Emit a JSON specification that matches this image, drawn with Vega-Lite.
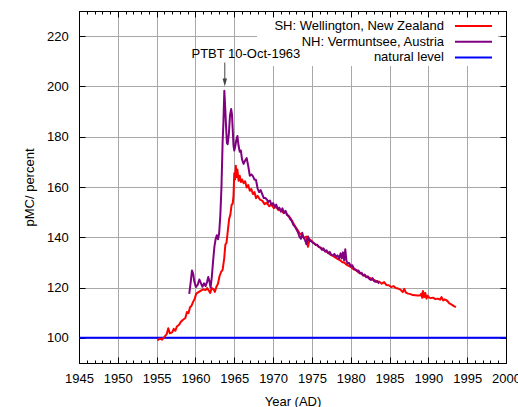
{
  "$schema": "https://vega.github.io/schema/vega-lite/v6.json",
  "width": 427,
  "height": 352,
  "autosize": "none",
  "padding": {"left": 79, "top": 11, "right": 12, "bottom": 44},
  "config": {
    "font": "Liberation Sans",
    "view": {"stroke": null},
    "axis": {
      "domainColor": "black", "domainWidth": 1,
      "tickColor": "black", "tickWidth": 1,
      "gridColor": "#a8a8a8", "gridWidth": 1,
      "labelFontSize": 13, "labelColor": "black",
      "titleFontSize": 13, "titleColor": "black", "titleFontWeight": "normal",
      "labelFlush": false, "labelOverlap": false
    }
  },
  "datasets": {
    "natural": [{"series": "natural level", "pmc": 100}],
    "annotation": [{"year": 1963.78, "label": "PTBT 10-Oct-1963"}],
    "series": [
      {"series":"SH: Wellington, New Zealand","year":1955.1,"pmc":98.9},
      {"series":"SH: Wellington, New Zealand","year":1955.4,"pmc":99.8},
      {"series":"SH: Wellington, New Zealand","year":1955.7,"pmc":99.3},
      {"series":"SH: Wellington, New Zealand","year":1956.0,"pmc":100.4},
      {"series":"SH: Wellington, New Zealand","year":1956.3,"pmc":101.5},
      {"series":"SH: Wellington, New Zealand","year":1956.5,"pmc":103.8},
      {"series":"SH: Wellington, New Zealand","year":1956.7,"pmc":101.8},
      {"series":"SH: Wellington, New Zealand","year":1957.0,"pmc":102.2},
      {"series":"SH: Wellington, New Zealand","year":1957.2,"pmc":103.6},
      {"series":"SH: Wellington, New Zealand","year":1957.4,"pmc":102.8},
      {"series":"SH: Wellington, New Zealand","year":1957.6,"pmc":104.5},
      {"series":"SH: Wellington, New Zealand","year":1957.9,"pmc":105.2},
      {"series":"SH: Wellington, New Zealand","year":1958.1,"pmc":106.3},
      {"series":"SH: Wellington, New Zealand","year":1958.4,"pmc":107.2},
      {"series":"SH: Wellington, New Zealand","year":1958.7,"pmc":107.9},
      {"series":"SH: Wellington, New Zealand","year":1958.9,"pmc":110.3},
      {"series":"SH: Wellington, New Zealand","year":1959.1,"pmc":109.8},
      {"series":"SH: Wellington, New Zealand","year":1959.3,"pmc":112.2},
      {"series":"SH: Wellington, New Zealand","year":1959.5,"pmc":112.8},
      {"series":"SH: Wellington, New Zealand","year":1959.7,"pmc":114.3},
      {"series":"SH: Wellington, New Zealand","year":1959.9,"pmc":115.5},
      {"series":"SH: Wellington, New Zealand","year":1960.1,"pmc":117.6},
      {"series":"SH: Wellington, New Zealand","year":1960.4,"pmc":118.2},
      {"series":"SH: Wellington, New Zealand","year":1960.7,"pmc":118.8},
      {"series":"SH: Wellington, New Zealand","year":1961.0,"pmc":119.3},
      {"series":"SH: Wellington, New Zealand","year":1961.3,"pmc":119.0},
      {"series":"SH: Wellington, New Zealand","year":1961.5,"pmc":119.8},
      {"series":"SH: Wellington, New Zealand","year":1961.7,"pmc":118.9},
      {"series":"SH: Wellington, New Zealand","year":1961.9,"pmc":117.9},
      {"series":"SH: Wellington, New Zealand","year":1962.1,"pmc":119.8},
      {"series":"SH: Wellington, New Zealand","year":1962.3,"pmc":119.4},
      {"series":"SH: Wellington, New Zealand","year":1962.5,"pmc":118.3},
      {"series":"SH: Wellington, New Zealand","year":1962.7,"pmc":120.3},
      {"series":"SH: Wellington, New Zealand","year":1962.9,"pmc":121.5},
      {"series":"SH: Wellington, New Zealand","year":1963.1,"pmc":124.5},
      {"series":"SH: Wellington, New Zealand","year":1963.3,"pmc":126.2},
      {"series":"SH: Wellington, New Zealand","year":1963.5,"pmc":127.0},
      {"series":"SH: Wellington, New Zealand","year":1963.7,"pmc":131.5},
      {"series":"SH: Wellington, New Zealand","year":1963.85,"pmc":137.0},
      {"series":"SH: Wellington, New Zealand","year":1964.0,"pmc":137.8},
      {"series":"SH: Wellington, New Zealand","year":1964.2,"pmc":143.5},
      {"series":"SH: Wellington, New Zealand","year":1964.35,"pmc":147.5},
      {"series":"SH: Wellington, New Zealand","year":1964.5,"pmc":149.0},
      {"series":"SH: Wellington, New Zealand","year":1964.65,"pmc":152.8},
      {"series":"SH: Wellington, New Zealand","year":1964.8,"pmc":153.5},
      {"series":"SH: Wellington, New Zealand","year":1964.9,"pmc":156.5},
      {"series":"SH: Wellington, New Zealand","year":1965.0,"pmc":165.5},
      {"series":"SH: Wellington, New Zealand","year":1965.1,"pmc":163.0},
      {"series":"SH: Wellington, New Zealand","year":1965.2,"pmc":168.5},
      {"series":"SH: Wellington, New Zealand","year":1965.3,"pmc":164.0},
      {"series":"SH: Wellington, New Zealand","year":1965.4,"pmc":167.0},
      {"series":"SH: Wellington, New Zealand","year":1965.55,"pmc":162.5},
      {"series":"SH: Wellington, New Zealand","year":1965.7,"pmc":164.5},
      {"series":"SH: Wellington, New Zealand","year":1965.85,"pmc":162.0},
      {"series":"SH: Wellington, New Zealand","year":1966.0,"pmc":163.0},
      {"series":"SH: Wellington, New Zealand","year":1966.2,"pmc":161.5},
      {"series":"SH: Wellington, New Zealand","year":1966.4,"pmc":162.3},
      {"series":"SH: Wellington, New Zealand","year":1966.6,"pmc":159.8},
      {"series":"SH: Wellington, New Zealand","year":1966.8,"pmc":160.8},
      {"series":"SH: Wellington, New Zealand","year":1967.0,"pmc":158.5},
      {"series":"SH: Wellington, New Zealand","year":1967.2,"pmc":159.2},
      {"series":"SH: Wellington, New Zealand","year":1967.4,"pmc":157.2},
      {"series":"SH: Wellington, New Zealand","year":1967.6,"pmc":158.0},
      {"series":"SH: Wellington, New Zealand","year":1967.8,"pmc":155.5},
      {"series":"SH: Wellington, New Zealand","year":1968.0,"pmc":156.5},
      {"series":"SH: Wellington, New Zealand","year":1968.3,"pmc":155.0},
      {"series":"SH: Wellington, New Zealand","year":1968.6,"pmc":154.6},
      {"series":"SH: Wellington, New Zealand","year":1968.9,"pmc":153.2},
      {"series":"SH: Wellington, New Zealand","year":1969.2,"pmc":153.8},
      {"series":"SH: Wellington, New Zealand","year":1969.5,"pmc":152.4},
      {"series":"SH: Wellington, New Zealand","year":1969.8,"pmc":153.0},
      {"series":"SH: Wellington, New Zealand","year":1970.1,"pmc":151.6},
      {"series":"SH: Wellington, New Zealand","year":1970.4,"pmc":152.3},
      {"series":"SH: Wellington, New Zealand","year":1970.7,"pmc":150.8},
      {"series":"SH: Wellington, New Zealand","year":1971.0,"pmc":151.0},
      {"series":"SH: Wellington, New Zealand","year":1971.3,"pmc":149.8},
      {"series":"SH: Wellington, New Zealand","year":1971.6,"pmc":150.2},
      {"series":"SH: Wellington, New Zealand","year":1971.9,"pmc":148.6},
      {"series":"SH: Wellington, New Zealand","year":1972.2,"pmc":147.8},
      {"series":"SH: Wellington, New Zealand","year":1972.5,"pmc":146.2},
      {"series":"SH: Wellington, New Zealand","year":1972.8,"pmc":144.5},
      {"series":"SH: Wellington, New Zealand","year":1973.1,"pmc":143.2},
      {"series":"SH: Wellington, New Zealand","year":1973.4,"pmc":141.6},
      {"series":"SH: Wellington, New Zealand","year":1973.7,"pmc":141.0},
      {"series":"SH: Wellington, New Zealand","year":1974.0,"pmc":139.8},
      {"series":"SH: Wellington, New Zealand","year":1974.3,"pmc":140.3},
      {"series":"SH: Wellington, New Zealand","year":1974.5,"pmc":136.2},
      {"series":"SH: Wellington, New Zealand","year":1974.7,"pmc":139.2},
      {"series":"SH: Wellington, New Zealand","year":1975.0,"pmc":138.4},
      {"series":"SH: Wellington, New Zealand","year":1975.3,"pmc":137.5},
      {"series":"SH: Wellington, New Zealand","year":1975.6,"pmc":137.0},
      {"series":"SH: Wellington, New Zealand","year":1975.9,"pmc":136.1},
      {"series":"SH: Wellington, New Zealand","year":1976.2,"pmc":135.8},
      {"series":"SH: Wellington, New Zealand","year":1976.5,"pmc":135.0},
      {"series":"SH: Wellington, New Zealand","year":1976.8,"pmc":134.3},
      {"series":"SH: Wellington, New Zealand","year":1977.1,"pmc":133.9},
      {"series":"SH: Wellington, New Zealand","year":1977.4,"pmc":133.0},
      {"series":"SH: Wellington, New Zealand","year":1977.7,"pmc":132.6},
      {"series":"SH: Wellington, New Zealand","year":1978.0,"pmc":132.0},
      {"series":"SH: Wellington, New Zealand","year":1978.3,"pmc":131.4},
      {"series":"SH: Wellington, New Zealand","year":1978.6,"pmc":130.9},
      {"series":"SH: Wellington, New Zealand","year":1978.9,"pmc":130.2},
      {"series":"SH: Wellington, New Zealand","year":1979.2,"pmc":129.9},
      {"series":"SH: Wellington, New Zealand","year":1979.5,"pmc":129.0},
      {"series":"SH: Wellington, New Zealand","year":1979.8,"pmc":128.5},
      {"series":"SH: Wellington, New Zealand","year":1980.1,"pmc":128.0},
      {"series":"SH: Wellington, New Zealand","year":1980.4,"pmc":127.2},
      {"series":"SH: Wellington, New Zealand","year":1980.7,"pmc":127.0},
      {"series":"SH: Wellington, New Zealand","year":1981.0,"pmc":126.0},
      {"series":"SH: Wellington, New Zealand","year":1981.3,"pmc":125.8},
      {"series":"SH: Wellington, New Zealand","year":1981.6,"pmc":124.9},
      {"series":"SH: Wellington, New Zealand","year":1981.9,"pmc":124.6},
      {"series":"SH: Wellington, New Zealand","year":1982.2,"pmc":124.0},
      {"series":"SH: Wellington, New Zealand","year":1982.5,"pmc":123.8},
      {"series":"SH: Wellington, New Zealand","year":1982.8,"pmc":123.2},
      {"series":"SH: Wellington, New Zealand","year":1983.1,"pmc":122.9},
      {"series":"SH: Wellington, New Zealand","year":1983.4,"pmc":122.4},
      {"series":"SH: Wellington, New Zealand","year":1983.7,"pmc":122.3},
      {"series":"SH: Wellington, New Zealand","year":1984.0,"pmc":121.5},
      {"series":"SH: Wellington, New Zealand","year":1984.3,"pmc":122.2},
      {"series":"SH: Wellington, New Zealand","year":1984.6,"pmc":121.0},
      {"series":"SH: Wellington, New Zealand","year":1984.9,"pmc":120.9},
      {"series":"SH: Wellington, New Zealand","year":1985.2,"pmc":120.2},
      {"series":"SH: Wellington, New Zealand","year":1985.5,"pmc":120.6},
      {"series":"SH: Wellington, New Zealand","year":1985.8,"pmc":119.8},
      {"series":"SH: Wellington, New Zealand","year":1986.1,"pmc":119.6},
      {"series":"SH: Wellington, New Zealand","year":1986.4,"pmc":119.2},
      {"series":"SH: Wellington, New Zealand","year":1986.7,"pmc":118.2},
      {"series":"SH: Wellington, New Zealand","year":1986.9,"pmc":119.5},
      {"series":"SH: Wellington, New Zealand","year":1987.1,"pmc":118.0},
      {"series":"SH: Wellington, New Zealand","year":1987.4,"pmc":117.6},
      {"series":"SH: Wellington, New Zealand","year":1987.7,"pmc":117.4},
      {"series":"SH: Wellington, New Zealand","year":1988.0,"pmc":117.0},
      {"series":"SH: Wellington, New Zealand","year":1988.3,"pmc":116.9},
      {"series":"SH: Wellington, New Zealand","year":1988.6,"pmc":116.8},
      {"series":"SH: Wellington, New Zealand","year":1988.9,"pmc":116.8},
      {"series":"SH: Wellington, New Zealand","year":1989.1,"pmc":117.6},
      {"series":"SH: Wellington, New Zealand","year":1989.2,"pmc":115.9},
      {"series":"SH: Wellington, New Zealand","year":1989.3,"pmc":118.6},
      {"series":"SH: Wellington, New Zealand","year":1989.45,"pmc":116.2},
      {"series":"SH: Wellington, New Zealand","year":1989.6,"pmc":117.9},
      {"series":"SH: Wellington, New Zealand","year":1989.75,"pmc":115.6},
      {"series":"SH: Wellington, New Zealand","year":1989.9,"pmc":116.8},
      {"series":"SH: Wellington, New Zealand","year":1990.1,"pmc":116.0},
      {"series":"SH: Wellington, New Zealand","year":1990.3,"pmc":115.8},
      {"series":"SH: Wellington, New Zealand","year":1990.6,"pmc":116.0},
      {"series":"SH: Wellington, New Zealand","year":1990.9,"pmc":115.4},
      {"series":"SH: Wellington, New Zealand","year":1991.2,"pmc":115.6},
      {"series":"SH: Wellington, New Zealand","year":1991.5,"pmc":115.2},
      {"series":"SH: Wellington, New Zealand","year":1991.7,"pmc":116.2},
      {"series":"SH: Wellington, New Zealand","year":1991.9,"pmc":114.9},
      {"series":"SH: Wellington, New Zealand","year":1992.1,"pmc":115.3},
      {"series":"SH: Wellington, New Zealand","year":1992.3,"pmc":115.0},
      {"series":"SH: Wellington, New Zealand","year":1992.5,"pmc":114.5},
      {"series":"SH: Wellington, New Zealand","year":1992.7,"pmc":113.7},
      {"series":"SH: Wellington, New Zealand","year":1992.9,"pmc":113.4},
      {"series":"SH: Wellington, New Zealand","year":1993.1,"pmc":113.0},
      {"series":"SH: Wellington, New Zealand","year":1993.3,"pmc":112.6},
      {"series":"SH: Wellington, New Zealand","year":1993.55,"pmc":112.2},
      {"series":"NH: Vermuntsee, Austria","year":1959.2,"pmc":117.5},
      {"series":"NH: Vermuntsee, Austria","year":1959.4,"pmc":122.5},
      {"series":"NH: Vermuntsee, Austria","year":1959.55,"pmc":126.8},
      {"series":"NH: Vermuntsee, Austria","year":1959.7,"pmc":125.6},
      {"series":"NH: Vermuntsee, Austria","year":1959.85,"pmc":122.5},
      {"series":"NH: Vermuntsee, Austria","year":1960.05,"pmc":120.2},
      {"series":"NH: Vermuntsee, Austria","year":1960.3,"pmc":121.2},
      {"series":"NH: Vermuntsee, Austria","year":1960.5,"pmc":123.2},
      {"series":"NH: Vermuntsee, Austria","year":1960.7,"pmc":121.8},
      {"series":"NH: Vermuntsee, Austria","year":1960.9,"pmc":120.3},
      {"series":"NH: Vermuntsee, Austria","year":1961.1,"pmc":121.7},
      {"series":"NH: Vermuntsee, Austria","year":1961.3,"pmc":120.6},
      {"series":"NH: Vermuntsee, Austria","year":1961.5,"pmc":122.3},
      {"series":"NH: Vermuntsee, Austria","year":1961.65,"pmc":124.2},
      {"series":"NH: Vermuntsee, Austria","year":1961.8,"pmc":122.5},
      {"series":"NH: Vermuntsee, Austria","year":1961.95,"pmc":120.0},
      {"series":"NH: Vermuntsee, Austria","year":1962.1,"pmc":124.0},
      {"series":"NH: Vermuntsee, Austria","year":1962.3,"pmc":131.5},
      {"series":"NH: Vermuntsee, Austria","year":1962.45,"pmc":136.5},
      {"series":"NH: Vermuntsee, Austria","year":1962.6,"pmc":139.3},
      {"series":"NH: Vermuntsee, Austria","year":1962.75,"pmc":140.8},
      {"series":"NH: Vermuntsee, Austria","year":1962.9,"pmc":139.2},
      {"series":"NH: Vermuntsee, Austria","year":1963.05,"pmc":141.5},
      {"series":"NH: Vermuntsee, Austria","year":1963.2,"pmc":148.5},
      {"series":"NH: Vermuntsee, Austria","year":1963.35,"pmc":160.0},
      {"series":"NH: Vermuntsee, Austria","year":1963.5,"pmc":178.0},
      {"series":"NH: Vermuntsee, Austria","year":1963.6,"pmc":185.5},
      {"series":"NH: Vermuntsee, Austria","year":1963.72,"pmc":198.3},
      {"series":"NH: Vermuntsee, Austria","year":1963.85,"pmc":190.5},
      {"series":"NH: Vermuntsee, Austria","year":1963.95,"pmc":183.5},
      {"series":"NH: Vermuntsee, Austria","year":1964.05,"pmc":177.5},
      {"series":"NH: Vermuntsee, Austria","year":1964.15,"pmc":177.0},
      {"series":"NH: Vermuntsee, Austria","year":1964.3,"pmc":181.0},
      {"series":"NH: Vermuntsee, Austria","year":1964.45,"pmc":188.5},
      {"series":"NH: Vermuntsee, Austria","year":1964.6,"pmc":191.0},
      {"series":"NH: Vermuntsee, Austria","year":1964.7,"pmc":189.0},
      {"series":"NH: Vermuntsee, Austria","year":1964.8,"pmc":183.0},
      {"series":"NH: Vermuntsee, Austria","year":1964.9,"pmc":176.5},
      {"series":"NH: Vermuntsee, Austria","year":1965.0,"pmc":174.5},
      {"series":"NH: Vermuntsee, Austria","year":1965.1,"pmc":175.8},
      {"series":"NH: Vermuntsee, Austria","year":1965.25,"pmc":178.5},
      {"series":"NH: Vermuntsee, Austria","year":1965.4,"pmc":180.3},
      {"series":"NH: Vermuntsee, Austria","year":1965.55,"pmc":176.5},
      {"series":"NH: Vermuntsee, Austria","year":1965.7,"pmc":174.0},
      {"series":"NH: Vermuntsee, Austria","year":1965.85,"pmc":174.5},
      {"series":"NH: Vermuntsee, Austria","year":1966.0,"pmc":171.0},
      {"series":"NH: Vermuntsee, Austria","year":1966.2,"pmc":169.2},
      {"series":"NH: Vermuntsee, Austria","year":1966.4,"pmc":170.5},
      {"series":"NH: Vermuntsee, Austria","year":1966.6,"pmc":171.5},
      {"series":"NH: Vermuntsee, Austria","year":1966.8,"pmc":168.3},
      {"series":"NH: Vermuntsee, Austria","year":1967.0,"pmc":164.5},
      {"series":"NH: Vermuntsee, Austria","year":1967.2,"pmc":165.0},
      {"series":"NH: Vermuntsee, Austria","year":1967.4,"pmc":164.3},
      {"series":"NH: Vermuntsee, Austria","year":1967.6,"pmc":163.0},
      {"series":"NH: Vermuntsee, Austria","year":1967.8,"pmc":162.8},
      {"series":"NH: Vermuntsee, Austria","year":1968.0,"pmc":159.5},
      {"series":"NH: Vermuntsee, Austria","year":1968.2,"pmc":158.0},
      {"series":"NH: Vermuntsee, Austria","year":1968.4,"pmc":158.8},
      {"series":"NH: Vermuntsee, Austria","year":1968.6,"pmc":157.2},
      {"series":"NH: Vermuntsee, Austria","year":1968.8,"pmc":155.6},
      {"series":"NH: Vermuntsee, Austria","year":1969.0,"pmc":155.6},
      {"series":"NH: Vermuntsee, Austria","year":1969.2,"pmc":155.0},
      {"series":"NH: Vermuntsee, Austria","year":1969.4,"pmc":154.1},
      {"series":"NH: Vermuntsee, Austria","year":1969.6,"pmc":154.6},
      {"series":"NH: Vermuntsee, Austria","year":1969.8,"pmc":152.8},
      {"series":"NH: Vermuntsee, Austria","year":1970.0,"pmc":153.6},
      {"series":"NH: Vermuntsee, Austria","year":1970.2,"pmc":152.2},
      {"series":"NH: Vermuntsee, Austria","year":1970.4,"pmc":153.0},
      {"series":"NH: Vermuntsee, Austria","year":1970.6,"pmc":151.2},
      {"series":"NH: Vermuntsee, Austria","year":1970.8,"pmc":151.8},
      {"series":"NH: Vermuntsee, Austria","year":1971.0,"pmc":150.2},
      {"series":"NH: Vermuntsee, Austria","year":1971.2,"pmc":151.5},
      {"series":"NH: Vermuntsee, Austria","year":1971.4,"pmc":149.6},
      {"series":"NH: Vermuntsee, Austria","year":1971.6,"pmc":150.5},
      {"series":"NH: Vermuntsee, Austria","year":1971.8,"pmc":148.8},
      {"series":"NH: Vermuntsee, Austria","year":1972.0,"pmc":148.6},
      {"series":"NH: Vermuntsee, Austria","year":1972.2,"pmc":147.2},
      {"series":"NH: Vermuntsee, Austria","year":1972.4,"pmc":146.6},
      {"series":"NH: Vermuntsee, Austria","year":1972.6,"pmc":145.0},
      {"series":"NH: Vermuntsee, Austria","year":1972.8,"pmc":144.4},
      {"series":"NH: Vermuntsee, Austria","year":1973.0,"pmc":143.2},
      {"series":"NH: Vermuntsee, Austria","year":1973.2,"pmc":142.0},
      {"series":"NH: Vermuntsee, Austria","year":1973.4,"pmc":140.2},
      {"series":"NH: Vermuntsee, Austria","year":1973.6,"pmc":139.4},
      {"series":"NH: Vermuntsee, Austria","year":1973.75,"pmc":141.8},
      {"series":"NH: Vermuntsee, Austria","year":1973.9,"pmc":140.0},
      {"series":"NH: Vermuntsee, Austria","year":1974.1,"pmc":139.0},
      {"series":"NH: Vermuntsee, Austria","year":1974.3,"pmc":137.2},
      {"series":"NH: Vermuntsee, Austria","year":1974.5,"pmc":140.3},
      {"series":"NH: Vermuntsee, Austria","year":1974.7,"pmc":138.5},
      {"series":"NH: Vermuntsee, Austria","year":1974.9,"pmc":138.6},
      {"series":"NH: Vermuntsee, Austria","year":1975.1,"pmc":137.9},
      {"series":"NH: Vermuntsee, Austria","year":1975.3,"pmc":137.6},
      {"series":"NH: Vermuntsee, Austria","year":1975.5,"pmc":136.9},
      {"series":"NH: Vermuntsee, Austria","year":1975.7,"pmc":137.0},
      {"series":"NH: Vermuntsee, Austria","year":1975.9,"pmc":136.2},
      {"series":"NH: Vermuntsee, Austria","year":1976.1,"pmc":135.9},
      {"series":"NH: Vermuntsee, Austria","year":1976.3,"pmc":135.0},
      {"series":"NH: Vermuntsee, Austria","year":1976.5,"pmc":135.6},
      {"series":"NH: Vermuntsee, Austria","year":1976.7,"pmc":134.4},
      {"series":"NH: Vermuntsee, Austria","year":1976.9,"pmc":134.8},
      {"series":"NH: Vermuntsee, Austria","year":1977.1,"pmc":133.6},
      {"series":"NH: Vermuntsee, Austria","year":1977.3,"pmc":134.2},
      {"series":"NH: Vermuntsee, Austria","year":1977.5,"pmc":133.0},
      {"series":"NH: Vermuntsee, Austria","year":1977.7,"pmc":132.8},
      {"series":"NH: Vermuntsee, Austria","year":1977.9,"pmc":133.4},
      {"series":"NH: Vermuntsee, Austria","year":1978.1,"pmc":132.2},
      {"series":"NH: Vermuntsee, Austria","year":1978.3,"pmc":132.8},
      {"series":"NH: Vermuntsee, Austria","year":1978.5,"pmc":131.5},
      {"series":"NH: Vermuntsee, Austria","year":1978.7,"pmc":133.6},
      {"series":"NH: Vermuntsee, Austria","year":1978.85,"pmc":131.6},
      {"series":"NH: Vermuntsee, Austria","year":1979.0,"pmc":134.0},
      {"series":"NH: Vermuntsee, Austria","year":1979.15,"pmc":130.8},
      {"series":"NH: Vermuntsee, Austria","year":1979.3,"pmc":135.2},
      {"series":"NH: Vermuntsee, Austria","year":1979.45,"pmc":130.6},
      {"series":"NH: Vermuntsee, Austria","year":1979.6,"pmc":129.6},
      {"series":"NH: Vermuntsee, Austria","year":1979.8,"pmc":129.8},
      {"series":"NH: Vermuntsee, Austria","year":1980.0,"pmc":128.5},
      {"series":"NH: Vermuntsee, Austria","year":1980.2,"pmc":128.9},
      {"series":"NH: Vermuntsee, Austria","year":1980.4,"pmc":127.6},
      {"series":"NH: Vermuntsee, Austria","year":1980.6,"pmc":127.2},
      {"series":"NH: Vermuntsee, Austria","year":1980.8,"pmc":126.6},
      {"series":"NH: Vermuntsee, Austria","year":1981.0,"pmc":126.8},
      {"series":"NH: Vermuntsee, Austria","year":1981.2,"pmc":125.6},
      {"series":"NH: Vermuntsee, Austria","year":1981.4,"pmc":125.9},
      {"series":"NH: Vermuntsee, Austria","year":1981.6,"pmc":124.8},
      {"series":"NH: Vermuntsee, Austria","year":1981.8,"pmc":125.2},
      {"series":"NH: Vermuntsee, Austria","year":1982.0,"pmc":124.1},
      {"series":"NH: Vermuntsee, Austria","year":1982.2,"pmc":124.5},
      {"series":"NH: Vermuntsee, Austria","year":1982.4,"pmc":123.4},
      {"series":"NH: Vermuntsee, Austria","year":1982.6,"pmc":123.0},
      {"series":"NH: Vermuntsee, Austria","year":1982.8,"pmc":123.8},
      {"series":"NH: Vermuntsee, Austria","year":1983.0,"pmc":122.6},
      {"series":"NH: Vermuntsee, Austria","year":1983.2,"pmc":122.3},
      {"series":"NH: Vermuntsee, Austria","year":1983.4,"pmc":122.6},
      {"series":"NH: Vermuntsee, Austria","year":1983.65,"pmc":121.6}
    ]
  },
  "resolve": {"axis": {"x": "independent", "y": "independent"}},
  "layer": [
    {
      "data": {"name": "natural"},
      "mark": {"type": "rule", "strokeWidth": 2},
      "encoding": {
        "x": {"datum": 1945, "type": "quantitative",
              "scale": {"domain": [1945, 2000], "nice": false, "zero": false},
              "axis": {"orient": "top", "values": [1945, 1950, 1955, 1960, 1965, 1970, 1975, 1980, 1985, 1990, 1995, 2000], "labels": false, "grid": false, "tickSize": -6, "zindex": 1,
                       "title": "PTBT 10-Oct-1963", "titleAngle": 0, "titleAlign": "center", "titleBaseline": "middle", "titleX": 166.4, "titleY": 42.3, "titleFontSize": 13, "titleFontWeight": "normal", "titleColor": "black"}},
        "x2": {"datum": 2000},
        "y": {"field": "pmc", "type": "quantitative",
              "scale": {"domain": [90, 230], "nice": false, "zero": false},
              "axis": {"orient": "right", "values": [100, 120, 140, 160, 180, 200, 220], "labels": false, "grid": false, "tickSize": -6, "title": null}},
        "color": {"field": "series", "type": "nominal",
                  "scale": {"domain": ["SH: Wellington, New Zealand", "NH: Vermuntsee, Austria", "natural level"], "range": ["#ff0000", "#800080", "#0000ff"]}}
      }
    },
    {
      "data": {"name": "series"},
      "mark": {"type": "line", "strokeWidth": 2, "strokeJoin": "round"},
      "encoding": {
        "x": {"field": "year", "type": "quantitative",
              "scale": {"domain": [1945, 2000], "nice": false, "zero": false},
              "axis": {"orient": "bottom", "values": [1945, 1950, 1955, 1960, 1965, 1970, 1975, 1980, 1985, 1990, 1995, 2000], "grid": true, "tickSize": -6, "labelPadding": 15, "format": "d", "title": "Year (AD)", "titlePadding": 10}},
        "y": {"field": "pmc", "type": "quantitative",
              "scale": {"domain": [90, 230], "nice": false, "zero": false},
              "axis": {"orient": "left", "values": [100, 120, 140, 160, 180, 200, 220], "grid": true, "tickSize": -6, "labelPadding": 16.7, "title": "pMC/ percent", "titlePadding": 10}},
        "color": {"field": "series", "type": "nominal",
                  "scale": {"domain": ["SH: Wellington, New Zealand", "NH: Vermuntsee, Austria", "natural level"], "range": ["#ff0000", "#800080", "#0000ff"]},
                  "legend": {
                    "orient": "none", "legendX": 178, "legendY": 6,
                    "title": null, "padding": 1.5, "fillColor": "white",
                    "symbolType": "M-2.85,0H2.85", "symbolSize": 169, "symbolStrokeWidth": 2,
                    "labelFontSize": 13, "labelColor": "black", "labelLimit": 400,
                    "rowPadding": 0.7,
                    "encode": {
                      "labels": {"update": {"x": {"value": 185.5}, "align": {"value": "right"}}},
                      "symbols": {"update": {"x": {"value": 215}}}
                    }
                  }}
      }
    },
    {
      "data": {"name": "annotation"},
      "mark": {"type": "rule", "color": "#444444", "strokeWidth": 1},
      "encoding": {
        "x": {"field": "year", "type": "quantitative",
              "scale": {"domain": [1945, 2000], "nice": false, "zero": false},
              "axis": {"orient": "bottom", "values": [1945,1946,1947,1948,1949,1950,1951,1952,1953,1954,1955,1956,1957,1958,1959,1960,1961,1962,1963,1964,1965,1966,1967,1968,1969,1970,1971,1972,1973,1974,1975,1976,1977,1978,1979,1980,1981,1982,1983,1984,1985,1986,1987,1988,1989,1990,1991,1992,1993,1994,1995,1996,1997,1998,1999,2000], "labels": false, "grid": false, "domain": false, "tickSize": -3, "title": null}},
        "y": {"datum": 202, "type": "quantitative", "scale": {"domain": [90, 230], "nice": false, "zero": false}, "axis": null},
        "y2": {"datum": 209.5}
      }
    },
    {
      "data": {"name": "annotation"},
      "mark": {"type": "point", "shape": "M-0.55,-1L0,1L0.55,-1Z", "filled": true, "color": "#444444", "opacity": 1, "size": 64, "yOffset": -4},
      "encoding": {
        "x": {"field": "year", "type": "quantitative",
              "scale": {"domain": [1945, 2000], "nice": false, "zero": false},
              "axis": {"orient": "top", "values": [1945,1946,1947,1948,1949,1950,1951,1952,1953,1954,1955,1956,1957,1958,1959,1960,1961,1962,1963,1964,1965,1966,1967,1968,1969,1970,1971,1972,1973,1974,1975,1976,1977,1978,1979,1980,1981,1982,1983,1984,1985,1986,1987,1988,1989,1990,1991,1992,1993,1994,1995,1996,1997,1998,1999,2000], "labels": false, "grid": false, "domain": false, "tickSize": -3, "title": null}},
        "y": {"datum": 200, "type": "quantitative", "scale": {"domain": [90, 230], "nice": false, "zero": false}, "axis": null}
      }
    }
  ]
}
